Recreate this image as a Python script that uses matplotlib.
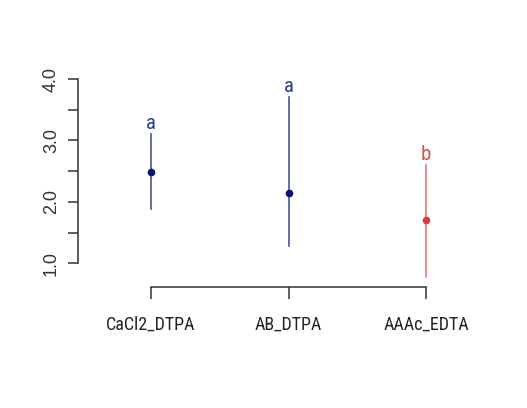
import matplotlib.pyplot as plt
from matplotlib import font_manager

# data
methods = ["CaCl2_DTPA", "AB_DTPA", "AAAc_EDTA"]
means = [2.48, 2.14, 1.70]
lower = [1.88, 1.29, 0.77]
upper = [3.10, 3.70, 2.60]
groups = ["a", "a", "b"]

line_colors = ["#4a5794", "#4a5794", "#e07a7a"]
point_colors = ["#0a1470", "#0a1470", "#e23a3a"]
letter_colors = ["#2c3d8c", "#2c3d8c", "#d9504f"]

names = {f.name for f in font_manager.fontManager.ttflist}
narrow = None
for n in ["Liberation Sans Narrow", "Roboto Condensed", "Open Sans Condensed"]:
    if n in names:
        narrow = n
        break
if narrow:
    lab_font = [narrow, "DejaVu Sans"]
    lab_size = 13
else:
    lab_font = ["Roboto", "DejaVu Sans"]
    lab_size = 11.5
plt.rcParams["font.family"] = ["Liberation Sans", "DejaVu Sans"]

fig = plt.figure(figsize=(5.27, 4.08), dpi=100)
ax = fig.add_axes([0.148, 0.2958, 0.799, 0.5255])

x = list(range(1, len(methods) + 1))
for i in range(len(methods)):
    ax.plot([x[i], x[i]], [lower[i], upper[i]], color=line_colors[i], lw=1.2)
    ax.plot(x[i], means[i], "o", color=point_colors[i], ms=4.5)
    ax.annotate(groups[i], (x[i], upper[i]), xytext=(0, 1), textcoords="offset points",
                ha="center", va="bottom", color=letter_colors[i], fontsize=15,
                family=lab_font)

ax.set_xlim(0.469, 3.531)
ax.set_ylim(0.61, 4.1)

ax.set_xticks(x)
ax.set_xticklabels(methods, fontsize=lab_size, family=lab_font)
ax.set_yticks([1.0, 1.5, 2.0, 2.5, 3.0, 3.5, 4.0])
ax.set_yticklabels(["1.0", "", "2.0", "", "3.0", "", "4.0"], rotation=90, va="center", fontsize=13)

for s in ["top", "right"]:
    ax.spines[s].set_visible(False)
ax.spines["left"].set_bounds(1.0, 4.0)
ax.spines["bottom"].set_bounds(1, 3)
for s in ["left", "bottom"]:
    ax.spines[s].set_color("#333333")
    ax.spines[s].set_linewidth(1.1)

ax.tick_params(axis="y", direction="out", length=7, width=1.1, color="#333333", pad=6, labelcolor="#333333")
ax.tick_params(axis="x", direction="out", length=8.5, width=1.1, color="#333333", pad=12, labelcolor="#222222")

fig.savefig("out.png", dpi=100, facecolor="white")
